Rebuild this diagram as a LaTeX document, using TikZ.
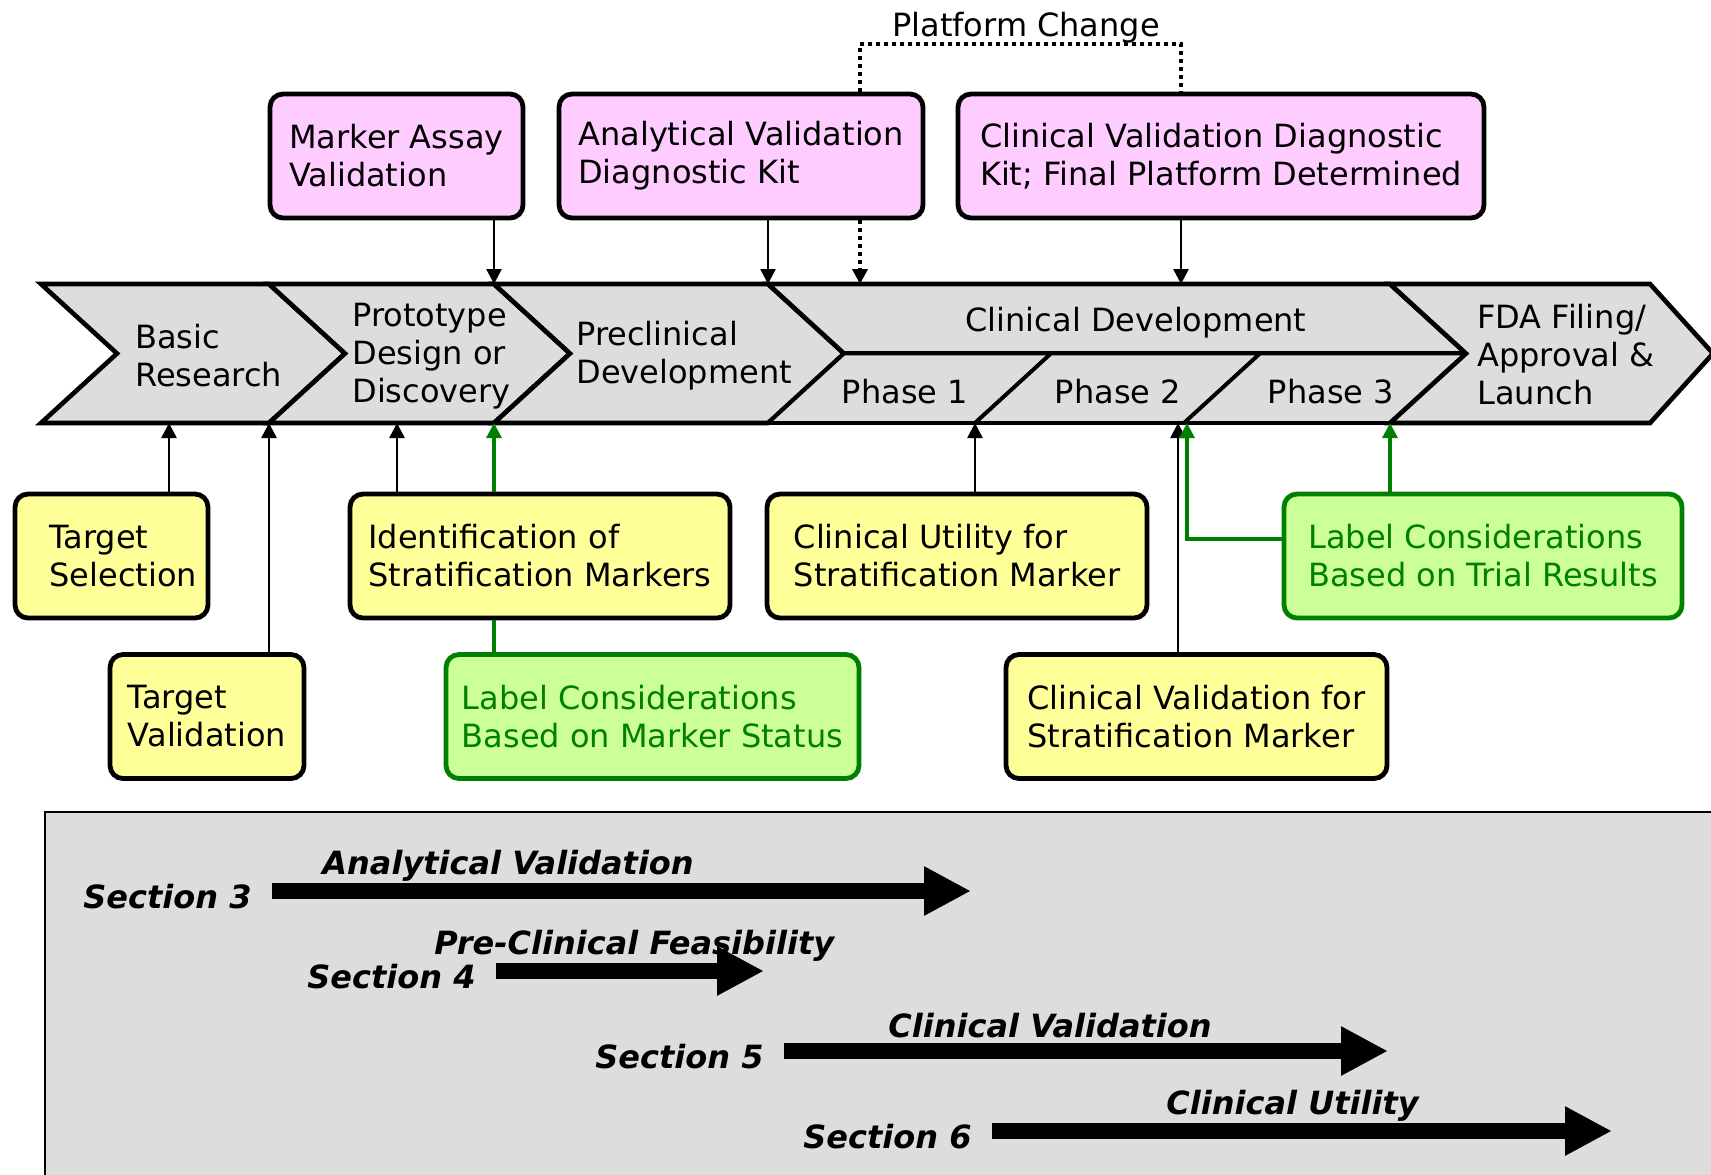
\documentclass[tikz,border=0pt]{standalone}
\usepackage{fontspec}
\setmainfont{DejaVu Sans}
\usetikzlibrary{arrows.meta}
\definecolor{stagegray}{HTML}{DDDDDD}
\definecolor{pinkfill}{HTML}{FFCCFF}
\definecolor{yellowfill}{HTML}{FFFF99}
\definecolor{greenfill}{HTML}{CCFF99}
\definecolor{darkgreen}{HTML}{008000}
\tikzset{
  txt/.style={font=\fontsize{16pt}{19pt}\selectfont, align=left, inner sep=0pt},
  box/.style={txt, draw, line width=2.4pt, rounded corners=6.5pt, minimum height=62pt},
  pinkbox/.style={box, fill=pinkfill, execute at begin node={\rule{0pt}{16pt}}},
  yellowbox/.style={box, fill=yellowfill},
  greenbox/.style={box, fill=greenfill, draw=darkgreen, text=darkgreen},
  stage/.style={draw, fill=stagegray, line width=2.3pt},
  arr/.style={-{Triangle[length=7.5pt,width=7.5pt]}, line width=1.3pt},
  garr/.style={arr, color=darkgreen, line width=1.6pt},
  gline/.style={draw=darkgreen, line width=1.6pt},
  platform/.style={line width=2pt, dash pattern=on 2pt off 2pt},
  seclabel/.style={font=\fontsize{16pt}{19pt}\selectfont\bfseries\itshape, inner ysep=0pt, inner xsep=10pt, anchor=east},
  sectitle/.style={font=\fontsize{16pt}{19pt}\selectfont\bfseries\itshape, inner sep=0pt, anchor=west},
  secarrow/.style={-{Triangle[length=23.5pt,width=23pt]}, line width=8pt}
}
\begin{document}
\begin{tikzpicture}[x=0.5pt, y=-0.5pt]
  \useasboundingbox (0,0) rectangle (1711,1174);

  % stages
  \path[stage] (41,284) -- (269,284) -- (345,353.5) -- (269,423) -- (41,423) -- (117,353.5) -- cycle;
  \path[stage] (269,284) -- (494,284) -- (570,353.5) -- (494,423) -- (269,423) -- (345,353.5) -- cycle;
  \path[stage] (494,284) -- (768,284) -- (844,353.5) -- (768,423) -- (494,423) -- (570,353.5) -- cycle;
  \path[stage] (768,284) -- (1390,284) -- (1466,353.5) -- (844,353.5) -- cycle;
  \path[stage, line width=1.9pt] (844,353.5) -- (1051,353.5) -- (975,423) -- (768,423) -- cycle;
  \path[stage, line width=1.9pt] (1051,353.5) -- (1260,353.5) -- (1184,423) -- (975,423) -- cycle;
  \path[stage, line width=1.9pt] (1260,353.5) -- (1466,353.5) -- (1390,423) -- (1184,423) -- cycle;
  \path[stage] (1390,284) -- (1650,284) -- (1713,353.5) -- (1650,423) -- (1390,423) -- (1466,353.5) -- cycle;

  \node[txt, anchor=west] (basic) at (135,356) {Basic\\Research};
  \node[txt, anchor=west] (proto) at (352,356) {Prototype\\Design or\\Discovery};
  \node[txt, anchor=west] (precl) at (576,356) {Preclinical\\Development};
  \node[txt] (clindev) at (1136,323) {Clinical Development};
  \node[txt] (ph1) at (905,392) {Phase 1};
  \node[txt] (ph2) at (1118,392) {Phase 2};
  \node[txt] (ph3) at (1331,392) {Phase 3};
  \node[txt, anchor=west] (fda) at (1477,355) {FDA Filing/\\Approval \&\\Launch};

  \coordinate (ppTop) at (494,284);
  \coordinate (pcTop) at (768,284);
  \coordinate (pfTop) at (860,284);
  \coordinate (cdTop) at (1181,284);
  \coordinate (brBot) at (169,423);
  \coordinate (bpBot) at (269,423);
  \coordinate (idBot) at (397,423);
  \coordinate (ppBot) at (494,423);
  \coordinate (p12Bot) at (975,423);
  \coordinate (p23Bot) at (1178,423);
  \coordinate (p23gBot) at (1187,423);
  \coordinate (p3fBot) at (1390,423);
  \coordinate (pcL) at (860,44);
  \coordinate (pcR) at (1181,44);

  % upper boxes
  \node[txt] (pclabel) at (1026,28) {Platform Change};
  \node[pinkbox, minimum width=126.5pt] (mav) at (396.5,156) {Marker Assay\\Validation};
  \node[pinkbox, minimum width=182pt] (avd) at (741,156) {Analytical Validation\\Diagnostic Kit};
  \node[pinkbox, minimum width=263pt] (cvd) at (1221,156) {Clinical Validation Diagnostic\\Kit; Final Platform Determined};

  \draw[arr] (mav.south -| ppTop) -- (ppTop);
  \draw[arr] (avd.south -| pcTop) -- (pcTop);
  \draw[arr, platform] (avd.south -| pfTop) -- (pfTop);
  \draw[arr] (cvd.south -| cdTop) -- (cdTop);
  \draw[platform] (avd.north -| pcL) -- (pcL) -- (pcR) -- (cvd.north -| pcR);

  % lower boxes
  \node[yellowbox, minimum width=96.5pt, text width=62pt] (tsel) at (111.5,556) {Target\\Selection};
  \node[yellowbox, minimum width=97pt] (tval) at (207,716.5) {Target\\Validation};
  \node[yellowbox, minimum width=190pt] (idsm) at (540,556) {Identification of\\Stratification Markers};
  \node[yellowbox, minimum width=190pt] (cusm) at (957,556) {Clinical Utility for\\Stratification Marker};
  \node[yellowbox, minimum width=190.5pt] (cvsm) at (1196.5,716.5) {Clinical Validation for\\Stratification Marker};
  \node[greenbox, minimum width=206.5pt] (lms) at (652.5,716.5) {Label Considerations\\Based on Marker Status};
  \node[greenbox, minimum width=199pt] (ltr) at (1483,556) {Label Considerations\\Based on Trial Results};

  \draw[arr] (tsel.north -| brBot) -- (brBot);
  \draw[arr] (tval.north -| bpBot) -- (bpBot);
  \draw[arr] (idsm.north -| idBot) -- (idBot);
  \draw[garr] (idsm.north -| ppBot) -- (ppBot);
  \draw[gline] (lms.north -| ppBot) -- (idsm.south -| ppBot);
  \draw[arr] (cusm.north -| p12Bot) -- (p12Bot);
  \draw[arr] (cvsm.north -| p23Bot) -- (p23Bot);
  \draw[garr] ([yshift=8.5pt]ltr.west) -| (p23gBot);
  \draw[garr] (ltr.north -| p3fBot) -- (p3fBot);

  % sections panel
  \fill[stagegray] (45,812) rectangle (1720,1180);
  \draw[line width=1pt] (45,1180) -- (45,812) -- (1720,812);

  \node[seclabel] (sec3) at (272,897) {Section 3};
  \node[seclabel] (sec4) at (496,977) {Section 4};
  \node[seclabel] (sec5) at (784,1057) {Section 5};
  \node[seclabel] (sec6) at (992,1137) {Section 6};
  \node[sectitle] (t3) at (322,866) {Analytical Validation};
  \node[sectitle] (t4) at (434,946) {Pre-Clinical Feasibility};
  \node[sectitle] (t5) at (888,1026) {Clinical Validation};
  \node[sectitle] (t6) at (1166,1106) {Clinical Utility};
  \coordinate (a3) at (971,891);
  \coordinate (a4) at (764,971);
  \coordinate (a5) at (1388,1051);
  \coordinate (a6) at (1612,1131);
  \draw[secarrow] ([yshift=3pt]sec3.east) -- (a3);
  \draw[secarrow] ([yshift=3pt]sec4.east) -- (a4);
  \draw[secarrow] ([yshift=3pt]sec5.east) -- (a5);
  \draw[secarrow] ([yshift=3pt]sec6.east) -- (a6);
\end{tikzpicture}
\end{document}
